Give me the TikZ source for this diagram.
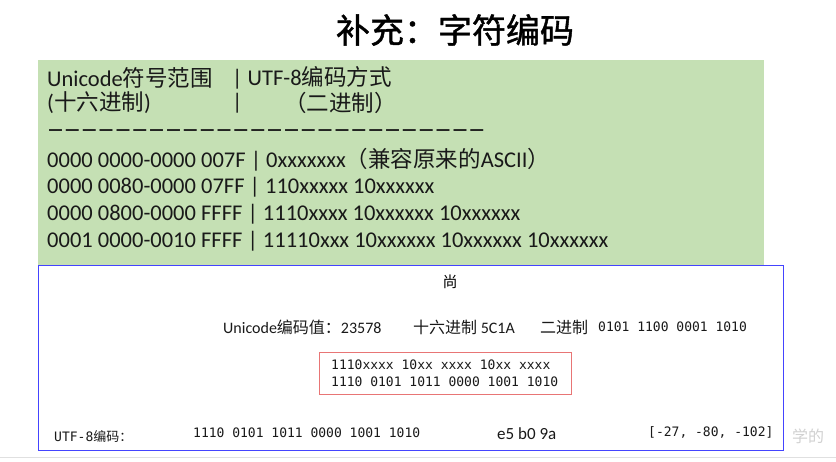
\documentclass[tikz,border=0pt]{standalone}
\usepackage{fontspec}
\setmainfont{Carlito}
\setmonofont{DejaVu Sans Mono}
\newfontfamily\cjk{Noto Sans CJK SC}
\newfontfamily\djv{DejaVu Sans}
\newfontfamily\cjkt[FakeBold=1.2]{Noto Sans CJK SC}
\newcommand\zh[1]{{\cjk #1}}
\newcommand\dd{\makebox[16.85pt]{—}}
\definecolor{greenbg}{HTML}{C5E0B4}
\definecolor{bluebd}{HTML}{4444FF}
\definecolor{redbd}{HTML}{E87575}
\tikzset{
  gtext/.style={anchor=west, inner sep=0pt, font=\fontsize{22.5}{22.5}\selectfont, text=black!90},
  btext/.style={anchor=west, inner sep=0pt, font=\fontsize{16}{16}\selectfont, text=black!90},
  mtext/.style={anchor=west, inner sep=0pt, font=\fontsize{13}{13}\ttfamily, text=black!90},
}
\begin{document}
\begin{tikzpicture}[x=1pt,y=-1pt]
\useasboundingbox (0,0) rectangle (836,461);
\fill[white] (0,0) rectangle (836,461);
\draw[black!12] (0,457.5) -- (836,457.5);
% title
\node[inner sep=0pt, font=\fontsize{34}{34}\cjkt] (title) at (455,30) {补充：字符编码};
% green box
\fill[greenbg] (38,60) rectangle (764,265);
\node[gtext] (l1a) at (47,78) {Unicode\zh{符号范围}};
\node[gtext] (l1b) at (232,78) {| UTF-8\zh{编码方式}};
\node[gtext] (l2a) at (47,103) {(\zh{十六进制})};
\node[gtext] (l2b) at (232,103) {|};
\node[gtext] (l2c) at (284,103) {\zh{（二进制）}};
\node[gtext, font=\fontsize{14.5}{14.5}\djv\bfseries] (dash) at (47,132) {\dd\dd\dd\dd\dd\dd\dd\dd\dd\dd\dd\dd\dd\dd\dd\dd\dd\dd\dd\dd\dd\dd\dd\dd\dd\dd};
\node[gtext] (r1) at (47,160) {0000 0000-0000 007F | 0xxxxxxx\zh{（兼容原来的}ASCII\zh{）}};
\node[gtext] (r2) at (47,187) {0000 0080-0000 07FF | 110xxxxx 10xxxxxx};
\node[gtext] (r3) at (47,214) {0000 0800-0000 FFFF | 1110xxxx 10xxxxxx 10xxxxxx};
\node[gtext] (r4) at (47,241) {0001 0000-0010 FFFF | 11110xxx 10xxxxxx 10xxxxxx 10xxxxxx};
% blue box
\draw[bluebd, line width=0.9pt] (38,265) rectangle (783.5,450);
\node[inner sep=0pt, font=\fontsize{15}{15}\cjk] (shang) at (450,282) {尚};
\node[btext] (uc) at (223,327) {Unicode\zh{编码值：}23578};
\node[btext] (hex) at (413,327) {\zh{十六进制} 5C1A};
\node[btext] (bin) at (540,327) {\zh{二进制}};
\node[mtext] (binv) at (598,327) {0101 1100 0001 1010};
\draw[redbd, line width=0.9pt] (319,352) rectangle (571,394);
\node[mtext] (p1) at (331,365) {1110xxxx 10xx xxxx 10xx xxxx};
\node[mtext] (p2) at (331,382) {1110 0101 1011 0000 1001 1010};
\node[mtext] (utf) at (54,436) {UTF-8\zh{编码：}};
\node[mtext] (utfv) at (193,433) {1110 0101 1011 0000 1001 1010};
\node[btext, font=\fontsize{17}{17}\selectfont] (hexb) at (497,434) {e5 b0 9a};
\node[mtext] (arr) at (648,432) {[-27, -80, -102]};
\node[anchor=west, inner sep=0pt, font=\fontsize{16}{16}\cjk, text=black!18] (wm) at (792,436) {学的};
\end{tikzpicture}
\end{document}
